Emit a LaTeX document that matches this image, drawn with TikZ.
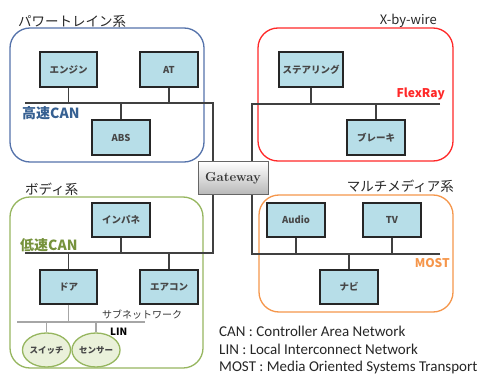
\documentclass[tikz,border=0pt]{standalone}
\usepackage{fontspec}
\newfontfamily\jp{Noto Sans CJK JP}
\newfontfamily\leg{Carlito}
\definecolor{ecufill}{RGB}{183,222,232}
\definecolor{ptblue}{RGB}{84,114,170}
\definecolor{xred}{RGB}{255,40,40}
\definecolor{bgreen}{RGB}{150,182,95}
\definecolor{morange}{RGB}{245,150,75}
\definecolor{hsblue}{RGB}{54,96,146}
\definecolor{lsgreen}{RGB}{118,146,60}
\definecolor{linfill}{RGB}{234,241,218}
\tikzset{
  ecu/.style={draw=black!85, line width=1.2pt, fill=ecufill, minimum width=58pt, minimum height=35pt, inner sep=0pt, font=\jp\bfseries\fontsize{9.5}{11}\selectfont, text=black!72},
  grp/.style={rounded corners=20pt, line width=1.3pt},
  bus/.style={draw=black!75, line width=1.3pt},
  subbus/.style={draw=black!35, line width=1.2pt},
  grplabel/.style={font=\jp\fontsize{13.5}{15}\selectfont, text=black!85, inner sep=0pt},
  netlabel/.style={font=\jp\bfseries\fontsize{14}{16}\selectfont, inner sep=0pt},
  sensor/.style={ellipse, draw=bgreen, line width=1.3pt, fill=linfill, minimum width=44pt, minimum height=34pt, inner sep=0pt, font=\jp\bfseries\fontsize{8.5}{10}\selectfont, text=black!72},
  legtext/.style={font=\leg\fontsize{15}{17}\selectfont, anchor=west, inner sep=0pt, text=black!85}
}
\usetikzlibrary{shapes.geometric}
\begin{document}
\begin{tikzpicture}[x=1pt,y=-1pt]
\useasboundingbox (0,0) rectangle (481,374);
% group boxes
\draw[grp, draw=ptblue] (10,28) rectangle (204,162);
\draw[grp, draw=xred] (258,28) rectangle (453,161);
\draw[grp, draw=bgreen] (10,197) rectangle (203,368);
\draw[grp, draw=morange] (259,195) rectangle (453,312);
% group labels
\node[grplabel, anchor=west] (lpt) at (18,21) {パワートレイン系};
\node[grplabel, anchor=east, font=\jp\fontsize{13}{15}\selectfont] (lxw) at (437,21) {X-by-wire};
\node[grplabel, anchor=west] (lbody) at (25,189) {ボディ系};
\node[grplabel, anchor=east] (lmm) at (454,186) {マルチメディア系};
% gateway
\node[draw=black!60, line width=0.8pt, top color=white, bottom color=black!28, minimum width=70pt, minimum height=33pt, inner sep=0pt, font=\bfseries\fontsize{13}{15}\selectfont, text=black!80] (gw) at (233,178) {Gateway};
% bus coordinates
\coordinate (aL) at (25,103); \coordinate (aR) at (213,103);
\coordinate (fL) at (252,104); \coordinate (fR) at (440,104);
\coordinate (cL) at (25,253); \coordinate (cR) at (213,253);
\coordinate (mL) at (252,254); \coordinate (mR) at (440,254);
\coordinate (lL) at (17,322); \coordinate (lR) at (145,322);
% ECUs
\node[ecu, minimum width=57pt] (eng) at (68.5,69.5) {エンジン};
\node[ecu] (at) at (169,69.5) {AT};
\node[ecu] (abs) at (121,137.5) {ABS};
\node[ecu, minimum width=64pt] (steer) at (311,69.5) {ステアリング};
\node[ecu] (brake) at (376,137.5) {ブレーキ};
\node[ecu, minimum height=34pt] (inp) at (121,220) {インパネ};
\node[ecu, minimum width=57pt, minimum height=34pt] (door) at (68.5,287) {ドア};
\node[ecu, minimum height=34pt] (ac) at (169,287) {エアコン};
\node[ecu, minimum height=34pt] (audio) at (296,220) {Audio};
\node[ecu, minimum height=34pt] (tv) at (392,220) {TV};
\node[ecu, minimum height=34pt] (navi) at (349,287) {ナビ};
\node[sensor] (sw) at (46.5,350) {スイッチ};
\node[sensor] (sn) at (96,350) {センサー};
% buses
\draw[bus] (aL) -- (aR) -- (aR |- gw.north);
\draw[bus] (fR) -- (fL) -- (fL |- gw.north);
\draw[bus] (cL) -- (cR) -- (cR |- gw.south);
\draw[bus] (mR) -- (mL) -- (mL |- gw.south);
\draw[bus] (eng.south) -- (eng.south |- aL);
\draw[bus] (at.south) -- (at.south |- aL);
\draw[bus] (abs.north) -- (abs.north |- aL);
\draw[bus] (steer.south) -- (steer.south |- fL);
\draw[bus] (brake.north) -- (brake.north |- fL);
\draw[bus] (inp.south) -- (inp.south |- cL);
\draw[bus] (door.north) -- (door.north |- cL);
\draw[bus] (ac.north) -- (ac.north |- cL);
\draw[bus] (audio.south) -- (audio.south |- mL);
\draw[bus] (tv.south) -- (tv.south |- mL);
\draw[bus] (navi.north) -- (navi.north |- mL);
\draw[subbus] (lL) -- (lR);
\draw[subbus] (door.south) -- (door.south |- lL);
\draw[subbus] (sw.north) -- (sw.north |- lL);
\draw[subbus] (sn.north) -- (sn.north |- lL);
% network labels
\node[netlabel, text=hsblue, anchor=west] (lhs) at (22,113) {高速CAN};
\node[netlabel, text=xred, anchor=east, font=\jp\bfseries\fontsize{12}{14}\selectfont] (lfr) at (445,94) {FlexRay};
\node[netlabel, text=lsgreen, anchor=west] (lls) at (20,245) {低速CAN};
\node[netlabel, text=morange, anchor=east, font=\jp\bfseries\fontsize{12}{14}\selectfont] (lmost) at (450,263) {MOST};
\node[inner sep=0pt, anchor=west, font=\jp\fontsize{10}{12}\selectfont, text=black!80] (lsub) at (102,315) {サブネットワーク};
\node[inner sep=0pt, anchor=west, font=\jp\bfseries\fontsize{10}{12}\selectfont] (llin) at (110,332) {LIN};
% legend
\node[legtext] (g1) at (219,331) {CAN : Controller Area Network};
\node[legtext] (g2) at (219,349) {LIN : Local Interconnect Network};
\node[legtext] (g3) at (219,367) {MOST : Media Oriented Systems Transport};
\end{tikzpicture}
\end{document}
